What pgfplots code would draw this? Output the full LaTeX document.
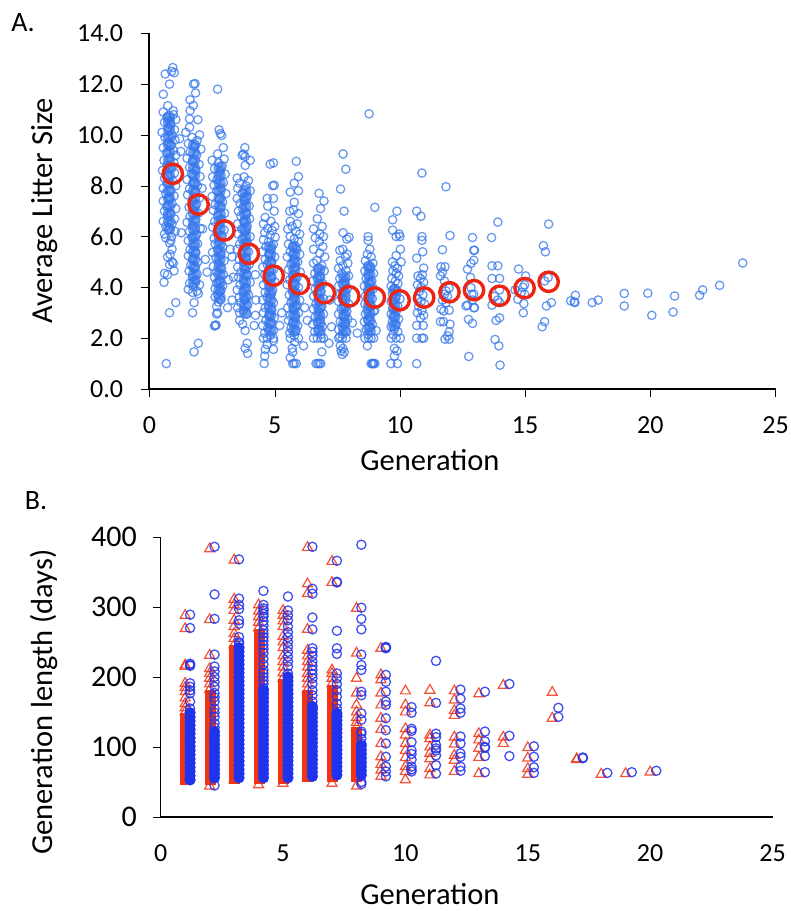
\documentclass[border=0pt]{standalone}
\usepackage{pgfplots}
\pgfplotsset{compat=1.18}
\usepackage{fontspec}
\setmainfont{Carlito}
\definecolor{ablue}{rgb}{0.20,0.46,0.92}
\definecolor{ared}{rgb}{0.93,0.15,0.08}
\definecolor{bblue}{rgb}{0.12,0.20,0.93}
\definecolor{bred}{rgb}{0.95,0.20,0.08}
\pgfplotsset{
 base/.style={scale only axis,axis lines=left,axis line style={-,black},
  tick align=outside,major tick length=8pt,
  tick style={black},
  ticklabel style={font=\fontsize{26}{26}\selectfont},
  label style={font=\fontsize{30.5}{30.5}\selectfont},
  /pgf/number format/assume math mode=true,clip=false},
 abf/.style={only marks,mark=*,mark size=6pt,mark options={draw=ablue,line width=0.1pt,fill=ablue,fill opacity=0.7,draw opacity=0.7}},
 ab/.style={only marks,mark=o,mark size=4.2pt,mark options={draw=ablue,line width=1.25pt,draw opacity=0.75}},
 ar/.style={only marks,mark=o,mark size=9.7pt,mark options={draw=ared,line width=3.4pt}},
 bb/.style={only marks,mark=o,mark size=4.6pt,mark options={draw=bblue,line width=1.3pt,draw opacity=0.85}},
 bbf/.style={only marks,mark=*,mark size=5.5pt,mark options={draw=bblue,line width=0.1pt,fill=bblue}},
 br/.style={only marks,mark=triangle,mark size=5.8pt,mark options={draw=bred,line width=1.2pt,draw opacity=0.85}},
 brf/.style={only marks,mark=square*,mark size=5pt,mark options={draw=bred,line width=0.1pt,fill=bred}},
}
\begin{document}
\begin{tikzpicture}[x=1pt,y=1pt]
\useasboundingbox (0,0) rectangle (791,911);
\node[anchor=center,font=\fontsize{28}{28}\selectfont] at (23,888) {A.};
\node[anchor=center,font=\fontsize{28}{28}\selectfont] at (36,410) {B.};
\begin{axis}[base,at={(149.5pt,522pt)},anchor=origin,width=626pt,height=355.7pt,
 line width=2pt,
 xmin=0,xmax=25,ymin=0,ymax=14,xtick={0,5,10,15,20,25},ytick={0,2,4,6,8,10,12,14},
 yticklabel style={xshift=-14pt,/pgf/number format/fixed,/pgf/number format/fixed zerofill,/pgf/number format/precision=1},
 xticklabel style={yshift=-15pt},
 xlabel={Generation},ylabel={Average Litter Size},
 xlabel style={at={(axis description cs:0.448,-0.2)},anchor=center},
 ylabel style={at={(axis description cs:-0.167,0.5)},anchor=center},
]
% dense cores of the columns
\addplot[abf] coordinates {(0.78,6.3)(0.78,6.6)(0.78,6.9)(0.78,7.2)(0.78,7.5)(0.78,7.8)(0.78,8.1)(0.78,8.4)(0.78,8.7)(0.78,9)(0.78,9.3)(0.78,9.6)(0.78,9.9)(0.78,10.2)(0.78,10.5)(0.78,10.7)
(1.78,4.2)(1.78,4.5)(1.78,4.8)(1.78,5.1)(1.78,5.4)(1.78,5.7)(1.78,6)(1.78,6.3)(1.78,6.6)(1.78,6.9)(1.78,7.2)(1.78,7.5)(1.78,7.8)(1.78,8.1)(1.78,8.4)(1.78,8.7)(1.78,9)(1.78,9.3)(1.78,9.6)
(2.8,3.6)(2.8,3.9)(2.8,4.2)(2.8,4.5)(2.8,4.8)(2.8,5.1)(2.8,5.4)(2.8,5.7)(2.8,6)(2.8,6.3)(2.8,6.6)(2.8,6.9)(2.8,7.2)(2.8,7.5)(2.8,7.8)(2.8,8.1)(2.8,8.4)(2.8,8.7)
(3.82,3)(3.82,3.3)(3.82,3.6)(3.82,3.9)(3.82,4.2)(3.82,4.5)(3.82,4.8)(3.82,5.1)(3.82,5.4)(3.82,5.7)(3.82,6)(3.82,6.3)(3.82,6.6)(3.82,6.9)(3.82,7.2)(3.82,7.5)(3.82,7.8)
(4.82,2.3)(4.82,2.6)(4.82,2.9)(4.82,3.2)(4.82,3.5)(4.82,3.8)(4.82,4.1)(4.82,4.4)(4.82,4.7)(4.82,5)(4.82,5.3)(4.82,5.6)
(5.78,2.3)(5.78,2.6)(5.78,2.9)(5.78,3.2)(5.78,3.5)(5.78,3.8)(5.78,4.1)(5.78,4.4)(5.78,4.7)(5.78,5)(5.78,5.3)(5.78,5.6)
(6.78,2.3)(6.78,2.6)(6.78,2.9)(6.78,3.2)(6.78,3.5)(6.78,3.8)(6.78,4.1)(6.78,4.4)(6.78,4.7)
(7.78,2.3)(7.78,2.6)(7.78,2.9)(7.78,3.2)(7.78,3.5)(7.78,3.8)(7.78,4.1)(7.78,4.4)
(8.78,2.4)(8.78,2.7)(8.78,3)(8.78,3.3)(8.78,3.6)(8.78,3.9)(8.78,4.2)(8.78,4.5)(8.78,4.8)
(9.78,2.5)(9.78,2.85)(9.78,3.2)(9.78,3.55)(9.78,3.9)};
% generation 1
\addplot[ab] coordinates {(0.93,12.65)(0.63,12.4)(0.88,12.5)(0.99,12.45)(0.8,12)(0.55,11.6)(0.73,11.15)(0.95,10.95)(0.55,10.9)(0.95,10.8)(0.7,10.7)(1.05,10.6)(0.6,10.5)(0.85,10.4)(0.75,10.3)(1.0,10.2)(0.5,10.1)(0.9,10)(0.62,9.9)(1.02,9.8)(0.72,9.7)(0.88,9.6)(0.55,9.5)(0.95,9.4)(0.68,9.3)(1.05,9.2)(0.8,9.1)(0.58,9)(0.98,8.9)(0.7,8.8)(0.9,8.7)(0.52,8.6)(1.0,8.5)(0.75,8.4)(0.6,8.3)(0.92,8.2)(0.7,8.1)(1.05,8)(0.55,7.9)(0.85,7.8)(0.65,7.7)(0.98,7.6)(0.78,7.5)(0.55,7.4)(0.9,7.3)(0.68,7.2)(1.05,7.1)(0.6,7)(0.85,6.9)(0.72,6.8)(1.0,6.7)(0.55,6.6)(0.9,6.5)(0.65,6.4)(0.8,6.3)(1.02,6.2)(0.6,6.1)(0.88,6)(1.2,9.85)(1.25,9.35)(1.27,6.15)(0.65,5.95)(0.85,5.85)(0.8,5.75)(0.9,5.5)(0.82,5.3)(0.9,5.0)(0.98,4.65)(0.72,4.5)(0.6,4.55)(0.58,4.2)(1.05,3.4)(0.8,3.0)(0.67,1.0)(0.72,5.2)(0.8,4.9)(0.95,4.95)};
% generation 2
\addplot[ab] coordinates {(1.76,12)(1.82,12.02)(1.84,11.65)(1.62,11.38)(1.75,11.16)(1.62,10.96)(1.6,10.63)(1.93,10.6)(1.6,10.3)(1.45,10.1)(2.0,10)(1.7,9.9)(1.9,9.78)(1.55,9.66)(1.8,9.55)(2.05,9.44)(1.62,9.32)(1.88,9.2)(1.5,9.08)(1.72,8.96)(1.98,8.84)(1.6,8.72)(1.85,8.6)(1.68,8.48)(2.02,8.36)(1.5,8.24)(1.78,8.12)(1.92,8)(1.6,7.88)(1.82,7.76)(1.52,7.64)(2.0,7.52)(1.7,7.4)(1.88,7.28)(1.58,7.16)(1.78,7.04)(1.95,6.92)(1.62,6.8)(1.85,6.68)(1.5,6.56)(1.72,6.44)(2.03,6.32)(1.6,6.2)(1.88,6.08)(1.7,5.96)(1.55,5.84)(1.92,5.72)(1.78,5.6)(1.62,5.48)(1.85,5.36)(1.55,5.24)(1.72,5.12)(1.92,5)(1.65,4.88)(1.8,4.76)(1.58,4.64)(1.9,4.52)(1.72,4.4)(1.85,4.28)(1.6,4.16)(1.75,4.04)(1.55,3.92)(1.9,3.85)(1.72,3.8)(1.95,3.75)(1.78,3.4)(1.72,3.0)(1.95,1.8)(1.78,1.46)(2.23,5.1)(2.3,4.6)(2.12,6.3)(2.1,7.9)(2.0,4.1)};
% generation 3
\addplot[ab] coordinates {(2.72,11.8)(2.78,10.2)(2.83,10.05)(2.88,9.98)(2.95,9.5)(2.72,9.25)(2.98,9.05)(2.5,9.0)(2.75,8.9)(2.9,8.79)(2.6,8.68)(2.82,8.57)(3.02,8.46)(2.52,8.35)(2.7,8.24)(2.95,8.13)(2.58,8.02)(2.85,7.91)(2.68,7.8)(3.05,7.69)(2.5,7.58)(2.78,7.47)(2.92,7.36)(2.62,7.25)(2.85,7.14)(2.55,7.03)(3,6.92)(2.72,6.81)(2.88,6.7)(2.6,6.59)(2.8,6.48)(2.52,6.37)(2.98,6.26)(2.7,6.15)(2.9,6.04)(2.58,5.93)(2.78,5.82)(2.62,5.71)(2.92,5.6)(2.72,5.49)(2.52,5.38)(2.85,5.27)(2.65,5.16)(2.98,5.05)(2.75,4.94)(2.55,4.83)(2.88,4.72)(2.68,4.61)(2.95,4.5)(2.6,4.39)(2.8,4.28)(2.68,4.17)(2.92,4.06)(2.62,3.95)(2.82,3.84)(2.72,3.73)(2.62,3.62)(2.85,3.51)(2.75,3.42)(2.68,3.25)(2.72,3.0)(2.68,2.95)(2.62,2.5)(2.6,2.48)(2.66,2.52)(3.12,3.2)(3.3,5.2)(3.22,5.5)(3.15,4.3)};
% generation 4
\addplot[ab] coordinates {(3.81,9.5)(3.7,9.2)(3.75,9.25)(3.82,9.15)(4.02,9)(3.82,8.8)(3.5,8.3)(3.78,8.35)(3.95,8.2)(3.6,8.1)(3.85,8)(3.52,7.9)(4.02,7.8)(3.7,7.7)(3.9,7.6)(3.5,7.5)(3.8,7.4)(3.62,7.3)(3.98,7.2)(3.72,7.1)(3.55,7)(3.88,6.9)(3.65,6.8)(4,6.7)(3.78,6.6)(3.52,6.5)(3.9,6.4)(3.68,6.3)(3.82,6.2)(3.55,6.1)(4.02,6)(3.7,5.9)(3.9,5.8)(3.6,5.7)(3.8,5.6)(3.5,5.5)(3.95,5.4)(3.68,5.3)(3.85,5.2)(3.58,5.1)(3.75,5)(3.98,4.9)(3.52,4.8)(3.82,4.7)(3.65,4.6)(3.9,4.5)(3.55,4.4)(3.75,4.3)(4.02,4.2)(3.62,4.1)(3.85,4)(3.5,3.9)(3.72,3.8)(3.95,3.7)(3.58,3.6)(3.8,3.5)(3.65,3.4)(3.92,3.3)(3.52,3.2)(3.75,3.1)(3.6,3)(3.9,2.95)(3.6,2.7)(3.72,2.55)(3.82,2.3)(3.9,1.8)(3.82,1.6)(3.92,1.4)(3.35,4.4)(4.23,2.9)(4.23,4.5)(4.25,3.5)(4.18,2.5)(3.3,3.5)};
% generation 5
\addplot[ab] coordinates {(4.82,8.85)(4.95,8.9)(4.92,8)(4.98,8.02)(4.7,7.5)(4.95,7.5)(4.72,7.2)(4.98,7.0)(4.62,6.75)(4.85,6.6)(4.55,6.5)(5,6.4)(4.72,6.32)(4.9,6.24)(4.6,6.15)(4.82,6.06)(5.02,5.97)(4.55,5.88)(4.75,5.8)(4.95,5.7)(4.65,5.6)(4.85,5.5)(4.5,5.4)(4.78,5.3)(5,5.2)(4.62,5.1)(4.88,5)(4.7,4.9)(4.52,4.8)(4.95,4.7)(4.8,4.6)(4.6,4.5)(4.88,4.4)(4.68,4.3)(5.02,4.2)(4.55,4.1)(4.78,4)(4.92,3.9)(4.62,3.8)(4.85,3.7)(4.7,3.6)(4.52,3.5)(4.95,3.4)(4.75,3.3)(4.62,3.2)(4.88,3.1)(4.55,3)(4.78,2.9)(4.98,2.8)(4.65,2.7)(4.85,2.6)(4.52,2.5)(4.72,2.4)(4.95,2.3)(4.6,2.2)(4.82,2.1)(4.7,2)(4.55,2)(4.95,2)(4.62,1.56)(4.95,1.56)(4.6,1.3)(4.58,1.0)(5.28,3.0)(5.2,2.5)(4.95,1.9)(4.7,1.75)};
% generation 6
\addplot[ab] coordinates {(5.86,8.96)(5.95,8.36)(5.78,8.1)(5.62,7.75)(5.95,7.8)(5.78,7.35)(5.6,7)(5.75,7.05)(5.95,6.9)(5.62,6.6)(5.9,6.5)(5.7,6.4)(5.52,6.3)(5.85,6.2)(6,6.1)(5.62,6)(5.78,5.9)(5.95,5.8)(5.55,5.7)(5.72,5.6)(5.88,5.5)(5.62,5.4)(6,5.3)(5.5,5.2)(5.78,5.1)(5.92,5)(5.65,4.9)(5.82,4.8)(5.55,4.7)(6.02,4.6)(5.72,4.5)(5.9,4.4)(5.6,4.3)(5.8,4.2)(5.5,4.1)(5.95,4)(5.7,3.9)(5.85,3.8)(5.58,3.7)(5.78,3.6)(6,3.5)(5.65,3.4)(5.88,3.3)(5.52,3.2)(5.75,3.1)(5.95,3)(5.62,2.9)(5.82,2.8)(5.55,2.7)(5.72,2.6)(5.92,2.5)(5.65,2.4)(5.85,2.3)(5.6,2.2)(5.78,2.1)(5.95,2)(5.62,2)(5.8,1.85)(5.7,1.6)(5.72,1.45)(5.62,1.23)(5.72,1.0)(5.86,1.0)(5.78,1.0)(6.15,1.7)(6.3,2.7)(6.2,3.2)};
% generation 7
\addplot[ab] coordinates {(6.77,7.7)(6.97,7.4)(6.83,7.1)(6.7,6.7)(6.9,6.4)(6.55,6.3)(6.8,6.1)(6.95,6)(6.62,5.95)(6.78,5.8)(6.92,5.6)(6.55,5.5)(6.8,5.35)(7,5.2)(6.68,5.05)(6.55,4.95)(6.88,4.85)(6.72,4.75)(6.98,4.65)(6.6,4.55)(6.82,4.45)(6.7,4.35)(6.52,4.25)(6.92,4.15)(6.78,4.05)(6.62,3.95)(6.85,3.85)(6.7,3.75)(6.55,3.65)(6.95,3.55)(6.8,3.45)(6.65,3.35)(6.88,3.25)(6.55,3.15)(6.75,3.05)(6.95,2.95)(6.62,2.85)(6.82,2.75)(6.7,2.65)(6.52,2.55)(6.9,2.45)(6.75,2.35)(6.6,2.25)(6.85,2.15)(6.7,2)(6.55,2)(6.85,2)(6.95,2)(6.88,1.46)(6.65,1)(6.72,1)(6.78,1)(6.84,1)(7.17,1.8)(7.27,2.45)(7.2,3.5)};
% generation 8
\addplot[ab] coordinates {(7.73,9.25)(7.84,8.65)(7.63,7.87)(7.77,7)(7.73,6.15)(7.97,5.97)(7.88,5.9)(7.6,5.46)(7.9,5.3)(7.72,5.5)(7.82,5.2)(7.62,5.05)(7.92,4.95)(7.72,4.85)(7.55,4.75)(7.85,4.65)(7.68,4.55)(7.95,4.45)(7.6,4.35)(7.8,4.25)(7.7,4.15)(7.55,4.05)(7.9,3.95)(7.75,3.85)(7.62,3.75)(7.85,3.65)(7.7,3.55)(7.55,3.45)(7.95,3.35)(7.8,3.25)(7.65,3.15)(7.88,3.05)(7.55,2.95)(7.75,2.85)(7.92,2.75)(7.62,2.65)(7.82,2.55)(7.7,2.45)(7.55,2.35)(7.88,2.25)(7.72,2.15)(7.6,2.05)(7.85,2)(7.55,2)(7.7,2)(7.62,1.7)(7.72,1.6)(7.7,1.36)(7.78,1.45)(7.65,1.5)(8.3,2.2)(8.1,2.6)};
% generation 9
\addplot[ab] coordinates {(8.77,10.83)(9,7.15)(8.73,6)(8.73,5.85)(8.8,5.5)(8.7,5.3)(8.85,5.2)(8.62,5.05)(8.92,4.95)(8.72,4.85)(8.82,4.75)(8.6,4.65)(8.95,4.55)(8.75,4.45)(8.65,4.35)(8.88,4.25)(8.78,4.15)(8.58,4.05)(8.95,3.95)(8.72,3.85)(8.82,3.75)(8.62,3.65)(8.9,3.55)(8.75,3.45)(8.6,3.35)(8.85,3.25)(8.7,3.15)(8.95,3.05)(8.62,2.95)(8.8,2.85)(8.72,2.75)(8.58,2.65)(8.9,2.55)(8.78,2.45)(8.65,2.35)(8.85,2.25)(8.72,2.15)(8.6,2)(8.75,2)(8.95,2)(8.85,2)(8.7,1.7)(8.85,1)(8.9,1)(8.96,1)(9,1)(8.92,1)(9,3.1)(9.05,2.3)};
% generation 10
\addplot[ab] coordinates {(9.88,7)(9.71,6.66)(9.71,6.25)(9.97,6.1)(10,6.0)(9.85,6.0)(10.02,5.5)(9.85,5.25)(10.05,5)(9.7,5)(9.8,4.85)(9.9,4.75)(9.72,4.65)(9.85,4.55)(9.95,4.45)(9.68,4.35)(9.82,4.25)(9.92,4.15)(9.65,4.05)(9.78,3.95)(9.9,3.85)(9.7,3.75)(9.85,3.65)(10,3.55)(9.65,3.45)(9.8,3.35)(9.92,3.25)(9.72,3.15)(9.85,3.05)(9.65,2.95)(9.78,2.85)(9.95,2.75)(9.7,2.65)(9.85,2.55)(9.65,2.45)(9.78,2.35)(9.92,2.25)(9.72,2.15)(9.85,2)(9.65,2)(10.02,2)(9.78,1.6)(9.88,1.5)(9.78,1.3)(9.64,1)(9.9,1)};
% generation 11
\addplot[ab] coordinates {(10.88,8.5)(10.67,7)(10.84,6.8)(10.88,6)(10.88,5.85)(10.91,5.4)(10.67,5.15)(10.95,4.76)(10.72,4.45)(10.9,4.5)(10.82,4.35)(10.95,4.2)(10.7,4.1)(10.85,4)(10.78,3.85)(10.92,3.7)(10.7,3.55)(10.85,3.45)(10.98,3.35)(10.75,3.25)(10.88,3.1)(10.7,3)(10.95,2.9)(10.82,2.8)(10.67,2.5)(10.93,2.5)(10.67,2)(10.88,2)(10.95,2)(10.67,1)};
% generation 12
\addplot[ab] coordinates {(11.84,7.96)(12,6.04)(11.7,5.48)(11.64,4.81)(11.8,4.81)(11.62,4.45)(11.78,4.25)(11.84,3.86)(11.97,3.97)(11.78,3.73)(11.9,3.65)(11.7,4.6)(11.64,3.14)(11.75,3.07)(11.97,3.1)(11.62,2.65)(11.74,2.65)(12,2.55)(11.97,2.25)(11.9,2.09)(11.8,1.96)(11.97,1.96)(11.85,3.4)(11.7,3.5)};
% generation 13
\addplot[ab] coordinates {(12.9,5.96)(12.95,5.46)(12.98,5.46)(12.95,5.07)(12.84,4.94)(12.7,4.72)(12.82,4.39)(12.84,3.99)(12.95,3.73)(12.87,3.73)(12.64,3.27)(12.98,3.2)(12.95,3.2)(12.74,2.74)(12.9,2.58)(12.75,1.28)(12.7,3.3)(12.9,3.5)};
% generation 14
\addplot[ab] coordinates {(13.91,6.57)(13.66,5.96)(13.68,4.85)(13.91,4.85)(13.68,4.35)(13.98,4.35)(13.98,3.9)(13.78,3.65)(13.91,3.5)(13.98,3.4)(13.68,3.3)(13.98,2.8)(13.84,2.7)(13.8,1.95)(13.95,1.7)(14.0,0.94)};
% generation 15
\addplot[ab] coordinates {(14.74,4.72)(15.02,4.45)(14.98,4.1)(14.92,4)(14.98,3.73)(14.71,3.53)(14.95,3.36)(14.93,3)(14.85,3.8)(14.6,3.9)};
% generation 16 onward
\addplot[ab] coordinates {(15.94,6.49)(15.73,5.64)(15.81,5.4)(15.92,4.39)(15.78,4.25)(16.05,3.4)(15.85,3.27)(15.78,2.65)(15.68,2.45)(16.82,3.47)(17.01,3.69)(16.99,3.4)(16.96,3.43)(17.68,3.4)(17.92,3.5)(18.96,3.76)(18.96,3.27)(19.9,3.77)(20.06,2.9)(20.97,3.66)(20.91,3.03)(21.97,3.69)(22.09,3.9)(22.77,4.08)(23.69,4.96)};
% generation means
\addplot[ar] coordinates {(0.93,8.47)(1.96,7.26)(2.99,6.24)(3.97,5.32)(4.96,4.46)(5.98,4.13)(7,3.77)(7.98,3.65)(9,3.6)(9.99,3.49)(10.97,3.6)(11.98,3.81)(12.96,3.89)(13.98,3.67)(14.98,3.97)(15.94,4.22)};
\end{axis}
\begin{axis}[base,at={(160.7pt,94pt)},anchor=origin,width=611.8pt,height=280pt,
 line width=1.3pt,
 xmin=0,xmax=25,ymin=0,ymax=400,xtick={0,5,10,15,20,25},ytick={0,100,200,300,400},
 x tick style={draw=none},
 xticklabel style={yshift=-16pt},
 yticklabel style={xshift=-12pt,font=\fontsize{30}{30}\selectfont},
 xlabel={Generation},ylabel={Generation length (days)},
 xlabel style={at={(axis description cs:0.44,-0.277)},anchor=center},
 ylabel style={at={(axis description cs:-0.19,0.41)},anchor=center},
]
% triangles, dense parts of the columns
\addplot[brf] coordinates {(1,54)(1,65)(1,72)(1,79)(1,86)(1,93)(1,100)(1,107)(1,114)(1,121)(1,128)(1,135)(1,142)
(2,54)(2,65)(2,72)(2,79)(2,86)(2,93)(2,100)(2,107)(2,114)(2,121)(2,128)(2,135)(2,142)(2,150)(2,158)(2,166)(2,174)
(3,56)(3,65)(3,72)(3,79)(3,86)(3,93)(3,100)(3,107)(3,114)(3,121)(3,128)(3,135)(3,142)(3,150)(3,158)(3,166)(3,174)(3,182)(3,190)(3,198)(3,206)(3,214)(3,222)(3,230)(3,238)
(4,56)(4,65)(4,72)(4,79)(4,86)(4,93)(4,100)(4,107)(4,114)(4,121)(4,128)(4,135)(4,142)(4,150)(4,158)(4,166)(4,174)(4,182)(4,190)(4,198)(4,206)(4,214)(4,222)(4,230)(4,238)(4,246)(4,254)(4,262)
(5,56)(5,65)(5,72)(5,79)(5,86)(5,93)(5,100)(5,107)(5,114)(5,121)(5,128)(5,135)(5,142)(5,150)(5,158)(5,166)(5,174)(5,182)(5,190)
(6,58)(6,67)(6,74)(6,81)(6,88)(6,95)(6,102)(6,109)(6,116)(6,123)(6,130)(6,137)(6,144)(6,150)(6,158)(6,166)(6,174)
(7,58)(7,67)(7,74)(7,81)(7,88)(7,95)(7,102)(7,109)(7,116)(7,123)(7,130)(7,137)(7,144)(7,150)(7,158)(7,166)(7,174)(7,182)
(8,58)(8,65)(8,72)(8,79)(8,86)(8,93)(8,100)(8,107)(8,114)(8,121)};
% triangles, open marks
\addplot[br] coordinates {(1,288)(1,269)(1,217)(1,215)(1,191)(1,185)(1,179)(1,170)(1,162)(1,156)(1,150)
(2,383)(2,282)(2,231)(2,212)(2,205)(2,198)(2,190)(2,182)(2,44)
(3,367)(3,311)(3,303)(3,295)(3,281)(3,272)(3,262)(3,255)(3,246)(3,53)
(4,303)(4,294)(4,286)(4,278)(4,270)(4,46)
(5,295)(5,288)(5,280)(5,272)(5,258)(5,250)(5,242)(5,230)(5,222)(5,214)(5,206)(5,198)(5,48)
(6,385)(6,333)(6,319)(6,268)(6,238)(6,230)(6,222)(6,214)(6,205)(6,198)(6,190)(6,182)
(7,365)(7,335)(7,210)(7,205)(7,198)(7,190)(7,48)
(8,298)(8,234)(8,198)(8,177)(8,160)(8,150)(8,142)(8,135)(8,128)(8,44)
(9,241)(9,203)(9,196)(9,177)(9,160)(9,141)(9,125)(9,105)(9,86)(9,75)(9,67)(9,58)
(10,180)(10,160)(10,150)(10,126)(10,117)(10,105)(10,95)(10,72)(10,53)(10,85)(10,65)
(11,181)(11,163)(11,117)(11,112)(11,100)(11,91)(11,83)(11,69)(11,60)
(12,180)(12,167)(12,152)(12,145)(12,114)(12,104)(12,88)(12,81)(12,65)
(13,176)(13,119)(13,110)(13,98)(13,85)(13,62)
(14,188)(14,114)(14,105)
(15,99)(15,84)(15,69)(15,61)
(16,178)(16,141)(17,82)(17,83)(18,61)(19,62)(20,64)};
% circles, dense parts of the columns
\addplot[bbf] coordinates {(1.2,53)(1.2,59)(1.2,65)(1.2,71)(1.2,77)(1.2,83)(1.2,89)(1.2,95)(1.2,101)(1.2,107)(1.2,113)(1.2,119)(1.2,125)(1.2,131)(1.2,137)(1.2,143)(1.2,149)
(2.2,56)(2.2,62)(2.2,68)(2.2,74)(2.2,80)(2.2,86)(2.2,92)(2.2,98)(2.2,104)(2.2,110)(2.2,116)(2.2,122)
(3.2,56)(3.2,62)(3.2,68)(3.2,74)(3.2,80)(3.2,86)(3.2,92)(3.2,98)(3.2,104)(3.2,110)(3.2,116)(3.2,122)(3.2,128)(3.2,134)(3.2,140)(3.2,146)(3.2,152)(3.2,158)(3.2,164)(3.2,170)(3.2,176)(3.2,182)(3.2,188)(3.2,194)(3.2,200)(3.2,206)(3.2,212)(3.2,218)(3.2,224)(3.2,230)(3.2,236)(3.2,242)
(4.2,56)(4.2,62)(4.2,68)(4.2,74)(4.2,80)(4.2,86)(4.2,92)(4.2,98)(4.2,104)(4.2,110)(4.2,116)(4.2,122)(4.2,128)(4.2,134)(4.2,140)(4.2,146)(4.2,152)(4.2,158)(4.2,164)(4.2,170)(4.2,176)(4.2,181)
(5.2,56)(5.2,62)(5.2,68)(5.2,74)(5.2,80)(5.2,86)(5.2,92)(5.2,98)(5.2,104)(5.2,110)(5.2,116)(5.2,122)(5.2,128)(5.2,134)(5.2,140)(5.2,146)(5.2,152)(5.2,158)(5.2,164)(5.2,170)(5.2,176)(5.2,182)(5.2,188)(5.2,194)(5.2,200)
(6.2,58)(6.2,64)(6.2,70)(6.2,76)(6.2,82)(6.2,88)(6.2,94)(6.2,100)(6.2,106)(6.2,112)(6.2,118)(6.2,124)(6.2,130)(6.2,136)(6.2,142)(6.2,148)(6.2,154)(6.2,158)
(7.2,60)(7.2,66)(7.2,72)(7.2,78)(7.2,84)(7.2,90)(7.2,96)(7.2,102)(7.2,108)(7.2,114)(7.2,120)(7.2,126)(7.2,132)(7.2,138)(7.2,144)(7.2,148)
(8.2,60)(8.2,66)(8.2,72)(8.2,78)(8.2,84)(8.2,90)(8.2,96)(8.2,102)};
% circles, open marks
\addplot[bb] coordinates {(1.2,289)(1.2,270)(1.2,219)(1.2,217)(1.2,216)(1.2,191)(1.2,186)(1.2,181)(1.2,177)(1.2,165)(1.2,155)
(2.2,386)(2.2,318)(2.2,283)(2.2,232)(2.2,215)(2.2,208)(2.2,200)(2.2,193)(2.2,186)(2.2,177)(2.2,171)(2.2,165)(2.2,155)(2.2,149)(2.2,143)(2.2,134)(2.2,128)(2.2,45)
(3.2,368)(3.2,312)(3.2,303)(3.2,297)(3.2,281)(3.2,276)(3.2,257)(3.2,248)(3.2,250)
(4.2,323)(4.2,303)(4.2,295)(4.2,290)(4.2,286)(4.2,280)(4.2,274)(4.2,267)(4.2,262)(4.2,257)(4.2,252)(4.2,246)(4.2,240)(4.2,234)(4.2,226)(4.2,218)(4.2,210)(4.2,205)(4.2,200)(4.2,195)(4.2,190)(4.2,184)(4.2,298)
(5.2,315)(5.2,295)(5.2,288)(5.2,281)(5.2,272)(5.2,264)(5.2,257)(5.2,250)(5.2,243)(5.2,236)(5.2,229)(5.2,222)(5.2,215)(5.2,205)
(6.2,386)(6.2,326)(6.2,319)(6.2,285)(6.2,268)(6.2,241)(6.2,236)(6.2,230)(6.2,222)(6.2,216)(6.2,210)(6.2,204)(6.2,198)(6.2,190)(6.2,181)(6.2,174)(6.2,165)
(7.2,366)(7.2,336)(7.2,335)(7.2,266)(7.2,241)(7.2,233)(7.2,205)(7.2,198)(7.2,190)(7.2,181)(7.2,172)(7.2,162)(7.2,155)
(8.2,389)(8.2,299)(8.2,283)(8.2,268)(8.2,232)(8.2,217)(8.2,210)(8.2,179)(8.2,174)(8.2,148)(8.2,139)(8.2,122)(8.2,119)(8.2,112)(8.2,105)(8.2,50)(8.2,47)
(9.2,243)(9.2,242)(9.2,241)(9.2,203)(9.2,193)(9.2,179)(9.2,165)(9.2,160)(9.2,141)(9.2,124)(9.2,105)(9.2,86)(9.2,72)(9.2,65)(9.2,58)
(10.25,157)(10.25,149)(10.25,126)(10.25,123)(10.25,107)(10.25,95)(10.25,90)(10.25,82)(10.25,72)(10.25,68)(10.25,65)
(11.25,223)(11.25,163)(11.25,119)(11.25,114)(11.25,103)(11.25,98)(11.25,95)(11.25,88)(11.25,74)(11.25,62)
(12.25,182)(12.25,169)(12.25,155)(12.25,149)(12.25,115)(12.25,105)(12.25,91)(12.25,86)(12.25,72)(12.25,66)
(13.25,179)(13.25,122)(13.25,108)(13.25,100)(13.25,99)(13.25,87)(13.25,64)
(14.25,190)(14.25,116)(14.25,87)
(15.25,101)(15.25,86)(15.25,71)(15.25,63)
(16.25,156)(16.25,143)(17.25,85)(17.25,84)(18.25,63)(19.25,64)(20.25,66)};
\end{axis}
\end{tikzpicture}
\end{document}
